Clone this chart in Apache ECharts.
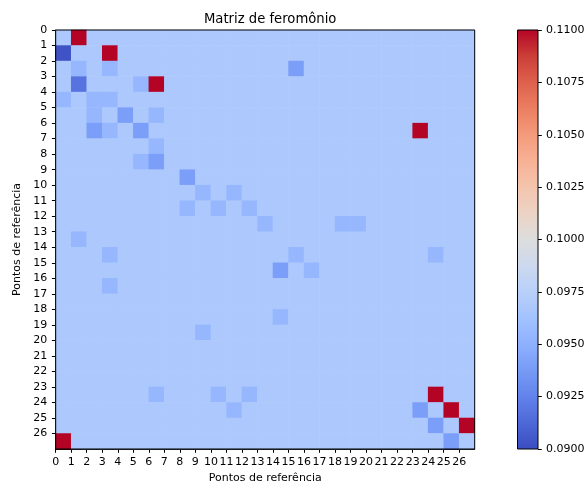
<!DOCTYPE html>
<html>
<head>
<meta charset="utf-8">
<script src="https://cdn.jsdelivr.net/npm/echarts@6/dist/echarts.min.js"></script>
<style>html,body{margin:0;padding:0;background:#fff}#c{width:587px;height:484px}</style>
</head>
<body>
<div id="c"></div>
<script>
// ---- data ----
const nPoints = 27;
const pointLabels = Array.from({length: nPoints}, (_, i) => String(i));
const backgroundValue = 0.0968;        // most cells
const redCells    = [[0,1],[1,3],[3,6],[6,23],[23,24],[24,25],[25,26],[26,0]]; // [row,col]
const redValue    = 0.1100;
const darkestCells = [[1,0]];
const darkestValue = 0.0903;
const darkCells   = [[3,1]];
const darkValue   = 0.0918;
const mediumCells = [[2,15],[5,4],[6,2],[6,5],[8,6],[9,8],[15,14],[24,23],[25,24],[26,25]];
const mediumValue = 0.0940;
const lightCells  = [[2,1],[2,3],[3,5],[4,0],[4,2],[4,3],[5,2],[5,6],[6,3],[7,6],[8,5],
                     [10,9],[10,11],[11,8],[11,10],[11,12],[12,13],[12,18],[12,19],[13,1],
                     [14,3],[14,15],[14,24],[15,16],[16,3],[18,14],[19,9],[23,6],[23,10],
                     [23,12],[24,11]];
const lightValue  = 0.0955;
const vMin = 0.09, vMax = 0.11, cbInterval = 0.0025;

// coolwarm colormap stops
const coolwarm = ['#3b4cc0','#4d68d7','#6282ea','#779af6','#8db0fe','#a3c2fe','#b8d0f9','#ccd9ee',
                  '#dddddd','#ecd3c5','#f5c4ad','#f7b195','#f49a7b','#eb7e62','#de604d','#cb3e38','#b40426'];

// build matrix
const matrix = [];
for (let r = 0; r < nPoints; r++) { matrix.push(new Array(nPoints).fill(backgroundValue)); }
const apply = (cells, v) => cells.forEach(([r,c]) => { matrix[r][c] = v; });
apply(lightCells, lightValue); apply(mediumCells, mediumValue); apply(darkCells, darkValue);
apply(darkestCells, darkestValue); apply(redCells, redValue);
const heatData = [];
for (let r = 0; r < nPoints; r++) for (let c = 0; c < nPoints; c++) heatData.push([c, r, matrix[r][c]]);

// ---- layout ----
const G = {left: 55.7, top: 30, width: 419, height: 419};
const CB = {left: 517.5, top: 30, width: 20.5, height: 419};
const font = 'DejaVu Sans';
const fs = 11;
const tickVals = Array.from({length: nPoints}, (_, i) => i);

const chart = echarts.init(document.getElementById('c'), null, {renderer: 'canvas'});
chart.setOption({
  animation: false,
  title: {text: 'Matriz de feromônio', left: G.left + G.width/2, top: 8, textAlign: 'center',
          textStyle: {fontFamily: font, fontSize: 13.2, fontWeight: 'normal', color: '#000'}},
  grid: [
    {left: G.left, top: G.top, width: G.width, height: G.height, show: true, borderColor: '#000', borderWidth: 1,
     backgroundColor: 'transparent', z: 5, containLabel: false, outerBoundsMode: 'none'},
    {left: CB.left, top: CB.top, width: CB.width, height: CB.height, show: false,
     containLabel: false, outerBoundsMode: 'none'}
  ],
  xAxis: [
    {type: 'category', gridIndex: 0, data: pointLabels, show: false},
    {type: 'value', gridIndex: 0, position: 'bottom', min: 0, max: nPoints, interval: 1,
     axisLine: {show: true, onZero: false, lineStyle: {color: '#000'}},
     axisTick: {show: true, length: 3.8, lineStyle: {color: '#000'}, customValues: tickVals},
     axisLabel: {fontFamily: font, fontSize: fs, color: '#000', margin: 7.5, customValues: tickVals},
     splitLine: {show: false},
     name: 'Pontos de referência', nameLocation: 'middle', nameGap: 21,
     nameTextStyle: {fontFamily: font, fontSize: fs, color: '#000'}},
    {type: 'category', gridIndex: 1, data: [''], show: false}
  ],
  yAxis: [
    {type: 'category', gridIndex: 0, data: pointLabels, inverse: true, show: false},
    {type: 'value', gridIndex: 0, position: 'left', min: 0, max: nPoints, interval: 1, inverse: true,
     axisLine: {show: true, onZero: false, lineStyle: {color: '#000'}},
     axisTick: {show: true, length: 3.8, lineStyle: {color: '#000'}, customValues: tickVals},
     axisLabel: {fontFamily: font, fontSize: fs, color: '#000', margin: 8.5, customValues: tickVals},
     splitLine: {show: false},
     name: 'Pontos de referência', nameLocation: 'middle', nameGap: 28.5, nameRotate: 90,
     nameTextStyle: {fontFamily: font, fontSize: fs, color: '#000'}},
    {type: 'value', gridIndex: 1, position: 'right', min: vMin, max: vMax, interval: cbInterval,
     axisLine: {show: false},
     axisTick: {show: true, length: 3.8, lineStyle: {color: '#000'}},
     axisLabel: {fontFamily: font, fontSize: fs, color: '#000', margin: 8,
                 formatter: v => v.toFixed(4)},
     splitLine: {show: false}}
  ],
  visualMap: {show: false, type: 'continuous', min: vMin, max: vMax, seriesIndex: 0,
              inRange: {color: coolwarm}},
  graphic: [{
    type: 'rect', z: 10,
    shape: {x: CB.left, y: CB.top, width: CB.width, height: CB.height},
    style: {
      fill: new echarts.graphic.LinearGradient(0, 1, 0, 0,
        coolwarm.map((c, i) => ({offset: i/(coolwarm.length-1), color: c}))),
      stroke: '#000', lineWidth: 1
    }
  }],
  series: [{
    type: 'heatmap', xAxisIndex: 0, yAxisIndex: 0, data: heatData,
    itemStyle: {borderWidth: 0}, emphasis: {disabled: true}
  }]
});
</script>
</body>
</html>
